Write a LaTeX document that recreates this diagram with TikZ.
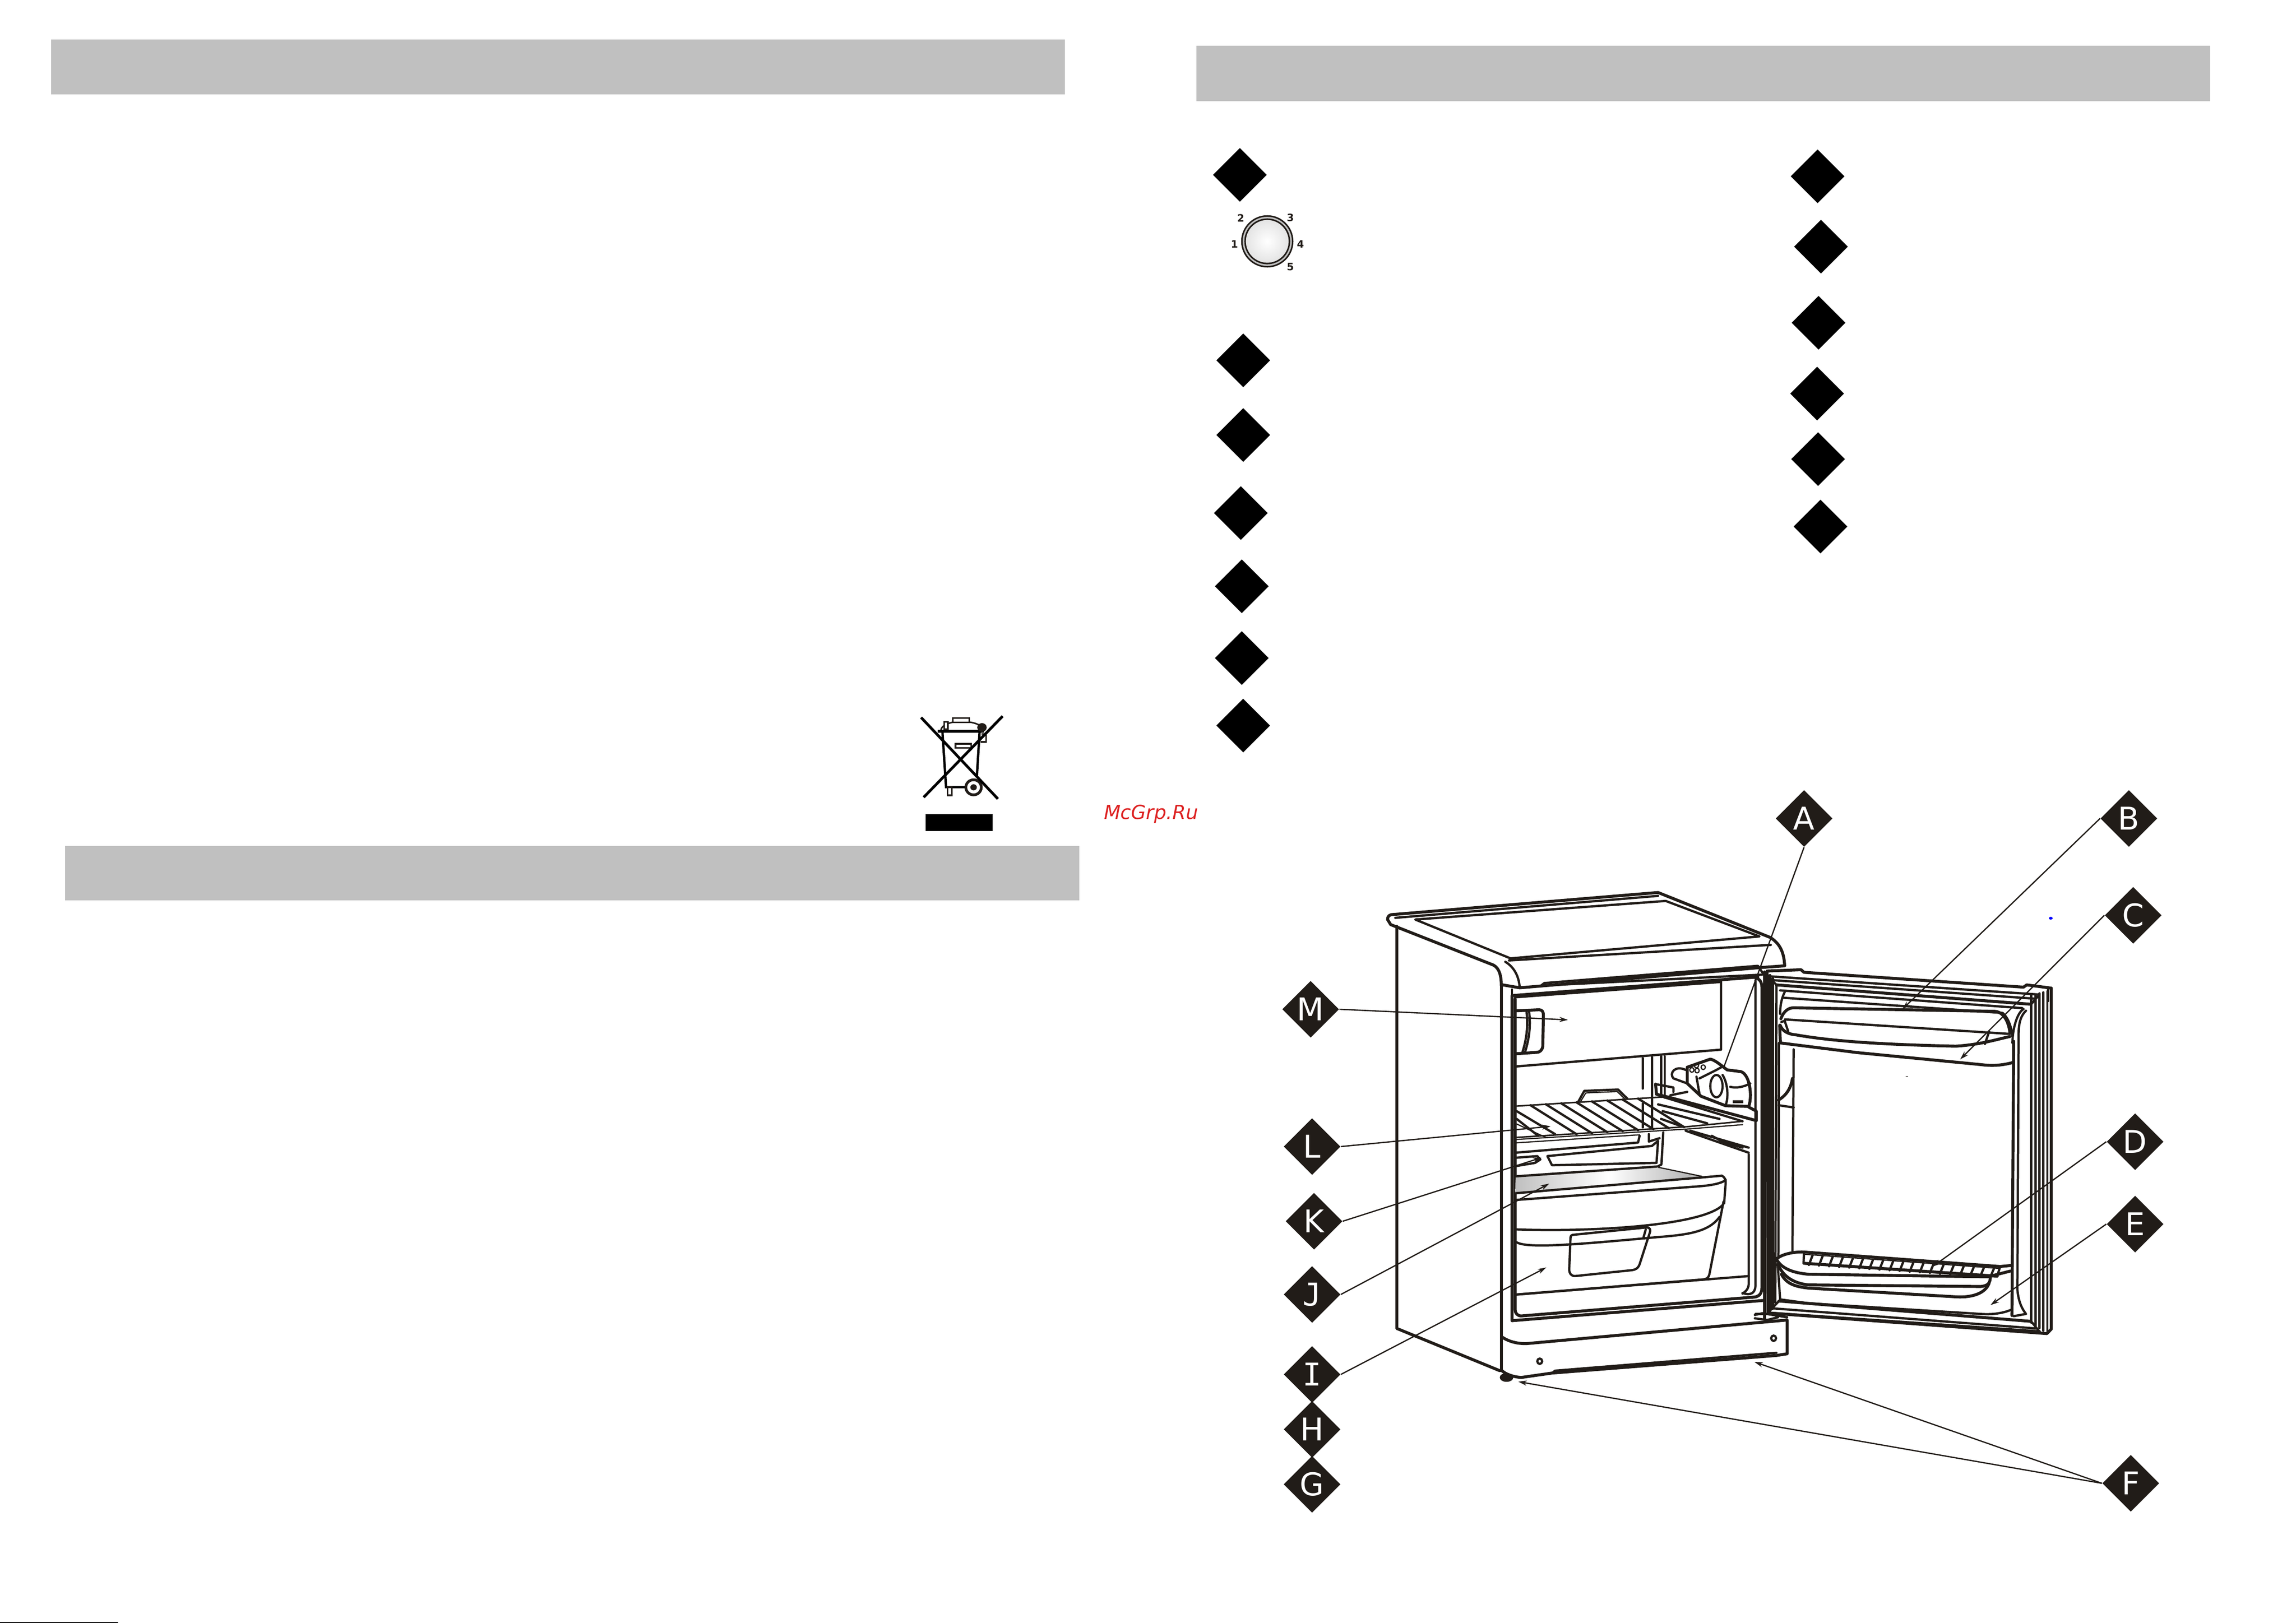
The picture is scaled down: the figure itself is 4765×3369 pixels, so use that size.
\documentclass[tikz,border=0pt]{standalone}
\usepackage{fontspec}
\usetikzlibrary{shapes.geometric,arrows.meta}
\newfontfamily\dv{DejaVu Sans}
\newfontfamily\dvm{DejaVu Sans Mono}
\definecolor{ink}{HTML}{211C18}
\definecolor{bar}{HTML}{C0C0C0}
\definecolor{wm}{HTML}{DD2222}
\tikzset{
  x=0.01cm,y=-0.01cm,
  fr/.style={line width=1.35pt,draw=ink,line join=round,line cap=round},
  frb/.style={line width=1.75pt,draw=ink,line join=round,line cap=round},
  frt/.style={line width=.7pt,draw=ink,line join=round,line cap=round},
  lead/.style={line width=.75pt,draw=ink,-{Stealth[length=5pt,width=3pt]}},
  plainlead/.style={line width=.75pt,draw=ink},
  tagmark/.style={diamond,fill=ink,inner sep=0pt,aspect=1,minimum width=1.18cm,minimum height=1.18cm,text=white,font=\dv\fontsize{18.5}{18.5}\selectfont},
  blankmark/.style={diamond,fill=black,inner sep=0pt,aspect=1,minimum width=1.12cm,minimum height=1.12cm},
  headerbar/.style={fill=bar,draw=none},
  digitlabel/.style={font=\dv\bfseries\fontsize{6}{6}\selectfont,text=ink,inner sep=0pt}
}
\begin{document}
\begin{tikzpicture}
\useasboundingbox (0,0) rectangle (4765,3369);
\fill[white] (0,0) rectangle (4765,3369);
% header bars
\fill[headerbar] (106,82) rectangle (2210,196);
\fill[headerbar] (2483,95) rectangle (4587,210);
\fill[headerbar] (135,1756) rectangle (2240,1869);
% bottom hairline
\fill[black] (0,3367) rectangle (245,3369);
% list diamonds
\node[blankmark] (l1) at (2573,363) {};
\node[blankmark] (l2) at (2580,748) {};
\node[blankmark] (l3) at (2580,903) {};
\node[blankmark] (l4) at (2575,1065) {};
\node[blankmark] (l5) at (2577,1217) {};
\node[blankmark] (l6) at (2577,1366) {};
\node[blankmark] (l7) at (2580,1506) {};
\node[blankmark] (r1) at (3772,366) {};
\node[blankmark] (r2) at (3779,512) {};
\node[blankmark] (r3) at (3774,670) {};
\node[blankmark] (r4) at (3771,817) {};
\node[blankmark] (r5) at (3773,953) {};
\node[blankmark] (r6) at (3778,1093) {};
% dial
\filldraw[fill=bar,draw=ink,line width=.9pt] (2630,501) circle [radius=52.7];
\shade[inner color=white,outer color=gray!22] (2630,501) circle [radius=46];
\draw[ink,line width=.9pt] (2630,501) circle [radius=46];
\node[digitlabel] (d1) at (2562,507) {1};
\node[digitlabel] (d2) at (2575,453) {2};
\node[digitlabel] (d3) at (2678,452) {3};
\node[digitlabel] (d4) at (2699,507) {4};
\node[digitlabel] (d5) at (2678,554) {5};
% WEEE bin
\begin{scope}[shift={(1850,1450)},xscale=.4464,yscale=.3333]
\fill[black] (159,720) rectangle (470,825);
\draw[black,line width=1.4pt] (237,205) -- (254,552) -- (350,552);
\draw[black,line width=1.4pt] (410,205) -- (397,490);
\draw[black,line width=1.8pt] (216,203) -- (430,203);
\draw[ink,line width=.9pt] (230,195) .. controls (235,165) and (270,145) .. (320,143) .. controls (360,143) and (390,150) .. (415,170);
\filldraw[fill=white,draw=ink,line width=.9pt] (285,122) rectangle (362,148);
\filldraw[fill=white,draw=ink,line width=.9pt] (246,145) rectangle (262,190);
\filldraw[fill=white,draw=ink,line width=.9pt] (298,282) rectangle (370,308);
\filldraw[fill=white,draw=ink,line width=.9pt] (260,552) rectangle (282,603);
\draw[ink,line width=.9pt] (418,220) -- (440,220) -- (440,270) -- (415,270);
\fill[ink] (421,180) ellipse [x radius=22,y radius=27];
\filldraw[fill=white,draw=ink,line width=1.6pt] (382,553) ellipse [x radius=36,y radius=47];
\fill[ink] (382,553) ellipse [x radius=15,y radius=19];
\draw[black,line width=1.6pt] (138,118) -- (495,625);
\draw[black,line width=1.6pt] (517,110) -- (150,615);
\end{scope}
\node[inner sep=0pt,text=wm,font=\dv\itshape\fontsize{11.4}{11.4}\selectfont] (wmk) at (2389,1690) {McGrp.Ru};
% tags
\node[tagmark] (A) at (3744,1699) {A};
\node[tagmark] (B) at (4418,1699) {B};
\node[tagmark] (C) at (4427,1900) {C};
\node[tagmark] (D) at (4431,2370) {D};
\node[tagmark] (E) at (4431,2541) {E};
\node[tagmark] (F) at (4422,3079) {F};
\node[tagmark] (G) at (2723,3081) {G};
\node[tagmark] (H) at (2723,2967) {H};
\node[tagmark] (I) at (2723,2853) {\dvm I};
\node[tagmark] (J) at (2723,2687) {\dvm J};
\node[tagmark] (K) at (2727,2535) {K};
\node[tagmark] (L) at (2723,2380) {L};
\node[tagmark] (M) at (2720,2095) {M};
% cabinet
\begin{scope}[shift={(2800,1800)},xscale=0.6378,yscale=0.7015]
% top
\draw[frb] (125,155) .. controls (125,145) and (130,140) .. (145,140) -- (1005,75) -- (1370,208) .. controls (1400,225) and (1415,250) .. (1417,292) -- (1340,297) -- (555,357) -- (497,348);
\draw[frb] (125,155) -- (135,170) -- (470,290) .. controls (490,300) and (495,325) .. (495,350);
\draw[fr] (150,150) -- (1005,85);
\draw[fr] (215,155) -- (1030,100) -- (1335,205) -- (525,270) -- cycle;
\draw[fr] (520,276) -- (1372,230);
\draw[fr] (508,280) .. controls (535,295) and (552,320) .. (555,357);
\draw[fr] (625,350) -- (635,343) -- (1330,292) -- (1347,315);
\draw[fr] (635,350) -- (1345,318);
% sides
\draw[frb] (155,175) -- (155,1365) -- (490,1490);
\draw[frb] (495,350) -- (495,1490);
\fill[ink] (512,1510) ellipse [x radius=22,y radius=13];
% base
\draw[frb] (497,1390) .. controls (520,1405) and (550,1410) .. (575,1410) -- (1425,1340) -- (1425,1440) -- (1390,1445) -- (660,1497) -- (560,1510) .. controls (530,1508) and (510,1500) .. (497,1490);
\draw[fr] (660,1497) -- (670,1490) -- (1390,1437);
\filldraw[fill=white,draw=ink,line width=1.3pt] (620,1462) ellipse [x radius=8,y radius=8];
\filldraw[fill=white,draw=ink,line width=1.3pt] (1381,1394) ellipse [x radius=8,y radius=8];
% frame
\draw[frb] (530,1342) -- (530,380) -- (1330,325);
\draw[fr] (530,362) -- (530,380);
\draw[frb] (530,1342) -- (1350,1282);
\draw[frb] (540,390) -- (540,1310) .. controls (540,1320) and (548,1328) .. (560,1328) -- (1320,1272) .. controls (1335,1270) and (1343,1260) .. (1343,1245) -- (1343,355) .. controls (1343,340) and (1335,330) .. (1322,328);
\draw[fr] (1322,335) -- (1322,1240) .. controls (1320,1262) and (1305,1268) .. (1280,1260);
\draw[fr] (1300,850) -- (1300,1235) .. controls (1298,1250) and (1290,1255) .. (1280,1262);
\draw[frb] (1352,310) -- (1352,1335);
\draw[fr] (1367,320) -- (1367,1320);
\draw[fr] (540,1265) -- (1300,1210);
% freezer
\draw[fr] (540,385) -- (1205,340);
\draw[fr] (1210,335) -- (1210,540) -- (540,590);
\draw[frb] (545,425) -- (618,422) .. controls (628,422) and (632,428) .. (632,438) -- (630,530) .. controls (628,542) and (620,548) .. (610,548) -- (545,552);
\draw[fr] (585,425) .. controls (592,470) and (585,510) .. (572,548);
\draw[fr] (577,427) .. controls (583,470) and (577,510) .. (563,550);
% pipes
\draw[fr] (955,565) -- (955,655);
\draw[fr] (985,562) -- (985,772);
\draw[fr] (1015,560) -- (1015,680);
\draw[fr] (1027,560) -- (1027,682);
\draw[fr] (955,700) -- (955,770);
% light / thermostat
\draw[frb] (1100,592) -- (1175,568) .. controls (1190,570) and (1215,590) .. (1230,600) -- (1275,605) .. controls (1305,615) and (1312,680) .. (1300,708) -- (1225,706) -- (1145,678) -- (1100,640) -- cycle;
\draw[fr] (1095,600) .. controls (1060,585) and (1040,610) .. (1055,625) -- (1100,640);
\draw[fr] (1140,625) -- (1195,600) -- (1215,590);
\draw[fr] (1130,620) -- (1140,672);
\filldraw[fill=white,draw=ink,line width=1.3pt] (1195,648) ellipse [x radius=20,y radius=33];
\draw[fr] (1215,615) .. controls (1232,640) and (1235,680) .. (1225,705);
\draw[fr] (1240,650) .. controls (1260,655) and (1285,650) .. (1305,640);
\fill[ink] (1248,690) rectangle (1283,698);
\draw[frt] (1130,587) circle [radius=7];
\draw[frt] (1115,600) circle [radius=7];
\draw[frt] (1132,602) circle [radius=7];
\draw[frt] (1152,592) circle [radius=7];
% bracket
\draw[frb] (997,642) -- (1000,672) -- (1045,682) -- (1325,750) -- (1325,722) -- (1300,710);
\draw[fr] (997,642) -- (1055,652) -- (1055,665);
\draw[fr] (1045,675) -- (1100,665);
% shelf
\draw[frt,line width=.9pt] (545,707) -- (1022,680);
\draw[frt,line width=.9pt] (540,800) -- (1100,768) -- (1280,752);
\draw[frt] (540,806) -- (1100,775) -- (1280,762);
\draw[fr] (1022,680) -- (1280,752);
\draw[frt] (540,816) -- (945,792);
\foreach \s in {590,640,690,740,790,840,890,940}
  \draw[fr] (\s,{707-(\s-545)*0.056}) -- ({\s+150},{793-(\s-545)*0.06});
\draw[fr] (545,722) -- (670,790);
\draw[fr] (545,745) -- (615,795);
\draw[frt] (545,760) -- (640,800);
\draw[fr] (745,695) -- (765,662) -- (875,658) -- (905,685);
\draw[frt] (752,695) -- (770,668) -- (872,664) -- (897,686);
\draw[fr] (1005,702) -- (1205,745);
\draw[fr] (1020,722) -- (1165,758);
\draw[fr] (1015,745) -- (1085,768);
\draw[fr] (1095,780) -- (1300,845);
\draw[fr] (1110,780) -- (1300,830);
\draw[fr] (1180,795) -- (1220,815) -- (1280,830);
% below shelf
\draw[fr] (945,795) -- (940,815) -- (540,845);
\draw[fr] (540,860) -- (612,855) -- (622,865) -- (605,875) -- (540,885);
\draw[fr] (645,855) -- (985,825) -- (1005,810) -- (1000,875) -- (660,882) -- cycle;
\draw[fr] (975,790) -- (975,812) -- (1010,802);
\draw[fr] (1022,785) -- (1016,880) -- (1003,886);
% crisper cover
\shade[left color=gray!50,right color=gray!65,middle color=white] (542,917) -- (1005,888) -- (1148,915) -- (540,962) -- cycle;
\draw[fr] (540,915) -- (1000,886);
\draw[frt] (1005,888) -- (1148,915);
\draw[fr] (540,965) -- (1150,918) -- (1213,913) .. controls (1222,918) and (1226,925) .. (1225,935) -- (1220,995);
\draw[fr] (540,985) -- (1130,945) .. controls (1180,942) and (1215,935) .. (1225,925);
% drawer
\draw[fr] (1218,990) -- (1172,1205) .. controls (1170,1215) and (1162,1220) .. (1150,1220) -- (540,1265);
\draw[fr] (545,1072) .. controls (800,1080) and (1150,1060) .. (1215,1000);
\draw[fr] (545,1110) .. controls (580,1130) and (760,1115) .. (1000,1095) .. controls (1100,1088) and (1170,1080) .. (1205,1035);
\draw[fr] (728,1088) -- (968,1066) .. controls (978,1066) and (982,1072) .. (978,1082) -- (945,1175) .. controls (940,1188) and (930,1192) .. (915,1193) -- (735,1210) .. controls (722,1210) and (716,1202) .. (716,1190) -- (720,1100) .. controls (720,1092) and (722,1089) .. (728,1088);
\draw[fr] (965,1072) -- (957,1098);
% hinge
\draw[fr] (1320,1325) -- (1345,1320) -- (1425,1332);
\draw[fr] (1320,1335) -- (1360,1340) -- (1395,1332);
\end{scope}
% door
\begin{scope}[shift={(3600,1800)},xscale=0.5102,yscale=0.6696]
\draw[frb] (132,322) -- (270,318) -- (282,326) -- (1175,372) -- (1188,365) -- (1288,375) -- (1288,1432) -- (1270,1446) -- (135,1382) -- cycle;
\draw[fr] (135,338) -- (1240,395);
\draw[fr] (150,350) -- (1225,408);
\draw[frb] (170,365) -- (1205,425);
\draw[fr] (185,382) -- (1170,437);
% verticals left
\draw[frb] (155,345) -- (155,1368);
\draw[fr] (170,365) -- (165,1350);
\draw[fr] (120,330) -- (120,1385);
\draw[fr] (145,335) -- (145,1375);
% verticals right
\foreach \vx in {1272,1256,1240,1224,1206}
  \draw[fr] (\vx,{385+(1272-\vx)*.2}) -- (\vx,{1445-(1272-\vx)*.5});
\draw[fr] (1275,380) -- (1275,415);
% bottom
\draw[frb] (135,1382) -- (1240,1440);
\draw[fr] (160,1368) -- (1225,1430);
\draw[frb] (180,1345) -- (1205,1408);
% corners
\draw[fr] (135,338) -- (170,365);
\draw[fr] (1240,395) -- (1206,425);
\draw[fr] (135,1382) -- (180,1345);
\draw[fr] (1240,1440) -- (1206,1408);
% inner right
\draw[frb] (1135,540) -- (1128,1390);
\draw[fr] (1130,545) .. controls (1130,500) and (1150,450) .. (1175,440);
\draw[fr] (1185,445) .. controls (1165,460) and (1155,480) .. (1155,520) -- (1150,1310) .. controls (1155,1350) and (1170,1370) .. (1185,1385) -- (1135,1392);
% upper shelf
\draw[fr] (185,455) .. controls (185,420) and (195,400) .. (205,385);
\draw[fr] (200,405) -- (1090,452) .. controls (1110,465) and (1125,490) .. (1130,525);
\draw[frb] (188,470) .. controls (200,445) and (220,436) .. (240,436) -- (1060,447) .. controls (1095,450) and (1115,480) .. (1120,515);
\draw[fr] (205,472) -- (1120,517);
\draw[fr] (205,480) -- (218,510);
\draw[fr] (190,480) -- (205,476);
\draw[frb] (185,490) .. controls (195,510) and (220,518) .. (250,520) .. controls (400,540) and (600,550) .. (900,555) .. controls (1000,550) and (1060,535) .. (1120,525);
\draw[frb] (183,490) -- (186,545) -- (500,575) -- (1000,612) .. controls (1060,618) and (1100,612) .. (1135,605);
\draw[fr] (1035,510) -- (1018,548);
% inner left
\draw[fr] (240,565) -- (235,1190);
\draw[fr] (180,545) -- (178,1210);
\draw[frb] (178,722) .. controls (205,710) and (228,690) .. (235,655);
\draw[fr] (178,738) -- (240,745);
% lower shelf
\draw[frb] (170,1215) .. controls (190,1200) and (240,1192) .. (280,1193) -- (1080,1238) -- (1122,1235);
\draw[frt] (282,1200) -- (1078,1244);
\draw[frb] (282,1228) -- (1068,1268);
\foreach \rx in {280,321,362,403,444,485,526,567,608,649,690,731,772,813,854,895,936,977,1018}
  \draw[fr] ({\rx+37},{1203+(\rx-280)*.055}) -- ({\rx+22},{1233+(\rx-280)*.051});
\draw[fr] (282,1200) -- (280,1228);
\draw[fr] (1080,1238) -- (1068,1268);
\draw[frb] (170,1215) .. controls (190,1245) and (240,1258) .. (300,1262) -- (1030,1270) -- (1122,1252);
\draw[frb] (178,1235) .. controls (200,1270) and (240,1290) .. (300,1295) -- (1000,1300) .. controls (1030,1298) and (1040,1290) .. (1040,1270);
\draw[frb] (190,1262) .. controls (210,1290) and (240,1300) .. (300,1305) -- (900,1332) .. controls (970,1335) and (1020,1320) .. (1035,1290);
\draw[fr] (175,1230) -- (185,1340) -- (300,1352) -- (1000,1385) .. controls (1050,1388) and (1095,1382) .. (1125,1372);
% bottom hinge
\draw[fr] (85,1385) -- (130,1385);
\end{scope}
% arrow ends
\coordinate (tA) at (3578,2214);
\coordinate (tB) at (3948,2095);
\coordinate (tC) at (4068,2199);
\coordinate (tD) at (4011,2629);
\coordinate (tE) at (4131,2709);
\coordinate (tF1) at (3151,2868);
\coordinate (tF2) at (3641,2827);
\coordinate (tI) at (3209,2631);
\coordinate (tJ) at (3215,2457);
\coordinate (tK) at (3199,2403);
\coordinate (tL) at (3218,2338);
\coordinate (tM) at (3254,2117);
\draw[plainlead] (A.south) -- (tA);
\draw[lead] (B.west) -- (tB);
\draw[lead] (C.west) -- (tC);
\draw[lead] (D.west) -- (tD);
\draw[lead] (E.west) -- (tE);
\draw[lead] (F.west) -- (tF1);
\draw[lead] (F.west) -- (tF2);
\draw[lead] (I.east) -- (tI);
\draw[lead] (J.east) -- (tJ);
\draw[lead] (K.east) -- (tK);
\draw[lead] (L.east) -- (tL);
\draw[lead] (M.east) -- (tM);
% stray marks
\fill[blue] (4256,1906) ellipse [x radius=4,y radius=3];
\fill[ink] (3955,2234) rectangle (3960,2235);
\end{tikzpicture}
\end{document}
